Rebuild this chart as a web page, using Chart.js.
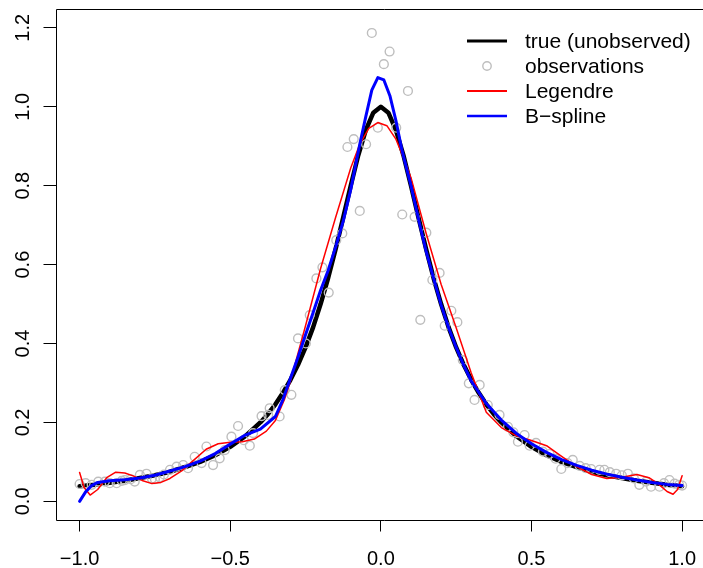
<!DOCTYPE html>
<html>
<head>
<meta charset="utf-8">
<script src="https://cdn.jsdelivr.net/npm/chart.js@4.4.0/dist/chart.umd.min.js"></script>
<style>
  html, body { margin: 0; padding: 0; overflow: hidden; background: #fff; }
</style>
</head>
<body>
<canvas id="grafico" width="712" height="568"></canvas>
<script>
// valores

const trueX = [-1, -0.95, -0.9, -0.85, -0.8, -0.75, -0.7, -0.65, -0.6, -0.55, -0.5, -0.45, -0.4, -0.375, -0.35, -0.325,
  -0.3, -0.275, -0.25, -0.225, -0.2, -0.175, -0.15, -0.125, -0.1, -0.075, -0.05, -0.025, 0,
  0.025, 0.05, 0.075, 0.1, 0.125, 0.15, 0.175, 0.2, 0.225, 0.25, 0.275, 0.3, 0.325, 0.35, 0.375, 0.4,
  0.45, 0.5, 0.55, 0.6, 0.65, 0.7, 0.75, 0.8, 0.85, 0.9, 0.95, 1]
const trueY = [0.038, 0.042, 0.047, 0.052, 0.059, 0.066, 0.075, 0.087, 0.100, 0.117, 0.138, 0.165, 0.200, 0.221, 0.246, 0.275,
  0.308, 0.346, 0.390, 0.441, 0.500, 0.566, 0.640, 0.719, 0.800, 0.877, 0.941, 0.985, 1.000,
  0.985, 0.941, 0.877, 0.800, 0.719, 0.640, 0.566, 0.500, 0.441, 0.390, 0.346, 0.308, 0.275, 0.246, 0.221, 0.200,
  0.165, 0.138, 0.117, 0.100, 0.087, 0.075, 0.066, 0.059, 0.052, 0.047, 0.042, 0.038]

const obsX = [-1.0, -0.98, -0.96, -0.938, -0.916, -0.9, -0.877, -0.86, -0.85, -0.83, -0.817, -0.8, -0.778, -0.76, -0.75,
  -0.734, -0.72, -0.7, -0.678, -0.656, -0.64, -0.618, -0.595, -0.579, -0.557, -0.535, -0.518, -0.496, -0.474, -0.455,
  -0.435, -0.424, -0.396, -0.374, -0.369, -0.336, -0.319, -0.297, -0.275, -0.249, -0.236, -0.214, -0.194, -0.173,
  -0.148, -0.128, -0.111, -0.09, -0.07, -0.049, -0.03, -0.01, 0.01, 0.029, 0.051, 0.071, 0.09, 0.112, 0.131, 0.151,
  0.171, 0.195, 0.212, 0.234, 0.254, 0.272, 0.292, 0.311, 0.328, 0.355, 0.394, 0.422, 0.44, 0.455, 0.477, 0.494,
  0.515, 0.538, 0.56, 0.58, 0.599, 0.62, 0.637, 0.66, 0.68, 0.698, 0.726, 0.742, 0.76, 0.781, 0.8, 0.82, 0.84,
  0.858, 0.88, 0.897, 0.925, 0.94, 0.958, 0.975, 0.99, 1.0]
const obsY = [0.044, 0.046, 0.042, 0.050, 0.050, 0.046, 0.046, 0.052, 0.054, 0.056, 0.050, 0.067, 0.070, 0.058, 0.056,
  0.061, 0.068, 0.080, 0.088, 0.092, 0.084, 0.113, 0.097, 0.139, 0.092, 0.109, 0.130, 0.164, 0.191, 0.155,
  0.141, 0.173, 0.216, 0.219, 0.236, 0.215, 0.282, 0.270, 0.413, 0.400, 0.472, 0.565, 0.593, 0.529,
  0.662, 0.679, 0.898, 0.918, 0.736, 0.905, 1.187, 0.947, 1.108, 1.140, 0.947, 0.727, 1.040, 0.721, 0.460, 0.681,
  0.561, 0.579, 0.445, 0.483, 0.454, 0.358, 0.299, 0.257, 0.295, 0.244, 0.219, 0.189, 0.175, 0.151, 0.168, 0.141,
  0.148, 0.126, 0.120, 0.108, 0.082, 0.097, 0.105, 0.090, 0.084, 0.082, 0.080, 0.080, 0.074, 0.070, 0.066, 0.070, 0.058,
  0.042, 0.050, 0.037, 0.037, 0.046, 0.054, 0.045, 0.042, 0.040]

const legX = [-1, -0.985, -0.965, -0.94, -0.91, -0.88, -0.85, -0.82, -0.79, -0.76, -0.73, -0.7, -0.66, -0.62, -0.58,
  -0.54, -0.5, -0.46, -0.42, -0.38, -0.35, -0.32, -0.3, -0.25, -0.2, -0.15, -0.1, -0.07, -0.04, -0.01, 0.02, 0.05,
  0.08, 0.1, 0.15, 0.2, 0.25, 0.3, 0.35, 0.4, 0.45, 0.5, 0.55, 0.6, 0.65, 0.7, 0.75, 0.8, 0.85, 0.89, 0.92, 0.95,
  0.97, 0.985, 1.0]
const legY = [0.073, 0.035, 0.016, 0.030, 0.060, 0.074, 0.072, 0.064, 0.052, 0.045, 0.048, 0.058, 0.078, 0.105, 0.132,
  0.146, 0.150, 0.151, 0.158, 0.178, 0.205, 0.258, 0.305, 0.445, 0.590, 0.720, 0.845, 0.905, 0.945, 0.960, 0.952, 0.918,
  0.862, 0.820, 0.680, 0.550, 0.440, 0.325, 0.226, 0.187, 0.166, 0.154, 0.141, 0.114, 0.088, 0.068, 0.058, 0.061, 0.068,
  0.060, 0.045, 0.025, 0.018, 0.030, 0.065]

const bsX = [-1, -0.98, -0.96, -0.94, -0.9, -0.85, -0.8, -0.75, -0.7, -0.65, -0.6, -0.55, -0.5, -0.45, -0.4, -0.35,
  -0.325, -0.3, -0.275, -0.25, -0.225, -0.2, -0.175, -0.15, -0.125, -0.1, -0.07, -0.05, -0.03, -0.01, 0.01, 0.03,
  0.05, 0.07, 0.1, 0.125, 0.15, 0.175, 0.2, 0.225, 0.25, 0.275, 0.3, 0.35, 0.4, 0.45, 0.5, 0.55, 0.6, 0.65, 0.7,
  0.75, 0.8, 0.85, 0.9, 0.95, 1.0]
const bsY = [0.000, 0.024, 0.040, 0.048, 0.052, 0.055, 0.059, 0.066, 0.077, 0.088, 0.102, 0.121, 0.145, 0.168, 0.183, 0.215,
  0.258, 0.312, 0.365, 0.422, 0.478, 0.535, 0.585, 0.645, 0.710, 0.790, 0.905, 0.975, 1.042, 1.074, 1.068, 1.028,
  0.965, 0.890, 0.800, 0.715, 0.635, 0.565, 0.498, 0.440, 0.390, 0.345, 0.305, 0.248, 0.206, 0.172, 0.146, 0.124,
  0.106, 0.091, 0.079, 0.069, 0.061, 0.054, 0.048, 0.043, 0.040]

const xTicks = [-1, -0.5, 0, 0.5, 1]
const xTickLabels = ['\u22121.0', '\u22120.5', '0.0', '0.5', '1.0']
const yTicks = [0, 0.2, 0.4, 0.6, 0.8, 1.0, 1.2]
const yTickLabels = ['0.0', '0.2', '0.4', '0.6', '0.8', '1.0', '1.2']

const legendLabels = ['true (unobserved)', 'observations', 'Legendre', 'B\u2212spline']

const FONT = '20px "Liberation Sans", Arial, sans-serif'
const FONT_LEG = '21px "Liberation Sans", Arial, sans-serif'

const pts = (xs, ys) => xs.map((x, i) => ({ x, y: ys[i] }))

// caixa, rótulos dos eixos e legenda no estilo do R
const estiloR = {
  id: 'estiloR',
  afterDraw(chart) {
    const { ctx, chartArea: a, scales: { x, y } } = chart
    ctx.save()
    ctx.strokeStyle = '#000'
    ctx.lineWidth = 1
    // a borda direita fica fora da imagem
    const l = Math.round(a.left) + 0.5, t = Math.round(a.top) + 0.5, b = Math.round(a.bottom) + 0.5
    ctx.beginPath()
    ctx.moveTo(chart.width, t)
    ctx.lineTo(l, t)
    ctx.lineTo(l, b)
    ctx.lineTo(chart.width, b)
    ctx.stroke()

    ctx.fillStyle = '#000'
    ctx.font = FONT
    ctx.textAlign = 'center'
    ctx.textBaseline = 'alphabetic'
    xTicks.forEach((v, i) => {
      ctx.fillText(xTickLabels[i], x.getPixelForValue(v), 565)
    })
    yTicks.forEach((v, i) => {
      ctx.save()
      ctx.translate(29, y.getPixelForValue(v))
      ctx.rotate(-Math.PI / 2)
      ctx.fillText(yTickLabels[i], 0, 0)
      ctx.restore()
    })

    // legenda
    const ds = chart.data.datasets
    ctx.font = FONT_LEG
    ctx.textAlign = 'left'
    ctx.textBaseline = 'middle'
    ds.forEach((d, i) => {
      const cy = 41 + i * 25
      if (d.showLine === false) {
        ctx.beginPath()
        ctx.arc(487, cy, 4.2, 0, Math.PI * 2)
        ctx.strokeStyle = d.pointBorderColor
        ctx.lineWidth = 1.4
        ctx.stroke()
      } else {
        ctx.beginPath()
        ctx.moveTo(467, cy)
        ctx.lineTo(507, cy)
        ctx.strokeStyle = d.borderColor
        ctx.lineWidth = d.legendWidth
        ctx.stroke()
      }
      ctx.fillStyle = '#000'
      ctx.fillText(legendLabels[i], 525, cy + 1)
    })
    ctx.restore()
  }
}

const data = {
  datasets: [
    {
      label: legendLabels[0],
      data: pts(trueX, trueY),
      showLine: true,
      borderColor: '#000',
      borderWidth: 4.5,
      legendWidth: 3,
      pointRadius: 0,
      borderCapStyle: 'round',
      borderJoinStyle: 'round',
      order: 3
    },
    {
      label: legendLabels[1],
      data: pts(obsX, obsY),
      showLine: false,
      pointRadius: 4.4,
      pointBorderWidth: 1.4,
      pointBorderColor: '#bebebe',
      pointBackgroundColor: 'rgba(0,0,0,0)',
      order: 2
    },
    {
      label: legendLabels[2],
      data: pts(legX, legY),
      showLine: true,
      borderColor: '#ff0000',
      borderWidth: 1.5,
      legendWidth: 2,
      pointRadius: 0,
      borderCapStyle: 'round',
      borderJoinStyle: 'round',
      order: 1
    },
    {
      label: legendLabels[3],
      data: pts(bsX, bsY),
      showLine: true,
      borderColor: '#0000ff',
      borderWidth: 3,
      legendWidth: 2.5,
      pointRadius: 0,
      borderCapStyle: 'round',
      borderJoinStyle: 'round',
      order: 0
    }
  ]
}

const config = {
  type: 'scatter',
  data,
  options: {
    responsive: false,
    animation: false,
    devicePixelRatio: 1,
    layout: { padding: { top: 9.3, right: 5.3, left: 0, bottom: 0 } },
    plugins: { legend: { display: false }, tooltip: { enabled: false } },
    scales: {
      x: {
        type: 'linear',
        min: -1.08,
        max: 1.08,
        afterFit: s => { s.height = 48.5 },
        afterBuildTicks: s => { s.ticks = xTicks.map(v => ({ value: v })) },
        ticks: { display: false },
        grid: { drawOnChartArea: false, drawTicks: true, tickLength: 12, color: '#000', lineWidth: 1 },
        border: { display: false }
      },
      y: {
        type: 'linear',
        min: -0.046,
        max: 1.247,
        afterFit: s => { s.width = 55.5 },
        afterBuildTicks: s => { s.ticks = yTicks.map(v => ({ value: v })) },
        ticks: { display: false },
        grid: { drawOnChartArea: false, drawTicks: true, tickLength: 12, color: '#000', lineWidth: 1 },
        border: { display: false }
      }
    }
  },
  plugins: [estiloR]
}

const graph = new Chart(document.getElementById('grafico'), config)
</script>
</body>
</html>
